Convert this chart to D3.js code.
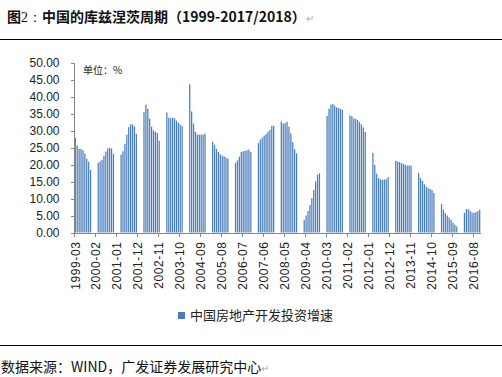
<!DOCTYPE html>
<html>
<head>
<meta charset="utf-8">
<script src="https://cdn.jsdelivr.net/npm/d3@7"></script>
<style>
  body { margin: 0; background: #fff; }
  svg { display: block; }
  .axis text { font-family: "Liberation Sans", Arial, sans-serif; fill: #222; }
  .axis path, .axis line { stroke: #868686; shape-rendering: crispEdges; }
</style>
</head>
<body>
<div id="chart"></div>
<script>
// monthly YTD growth (%), one row per year: Mar..Nov, then Dec/Jan/Feb blank
const investGrowth = [
  27.8, 25.6, 24.6, 24.6, 24.2, 23.2, 21.7, 20.8, 18.4, null, null, null, // 1999
  20.5, 20.9, 21.4, 22.6, 23.8, 24.7, 24.9, 24.7, 23.2, null, null, null, // 2000
  22.9, 23.9, 26.1, 28.8, 31.0, 31.8, 31.8, 31.2, 29.0, null, null, null, // 2001
  35.4, 37.6, 36.4, 33.5, 31.1, 30.0, 29.6, 29.3, 27.0, null, null, null, // 2002
  35.3, 33.8, 33.6, 33.8, 33.6, 32.9, 32.3, 31.8, 31.3, null, null, null, // 2003
  43.6, 35.6, 32.0, 29.6, 28.8, 28.8, 28.8, 28.8, 29.1, null, null, null, // 2004
  26.7, 25.8, 24.6, 23.7, 23.0, 22.6, 22.4, 22.1, 21.7, null, null, null, // 2005
  20.5, 21.2, 22.3, 23.7, 23.9, 24.0, 24.2, 24.4, 23.7, null, null, null, // 2006
  26.3, 27.3, 27.9, 28.5, 28.9, 29.6, 30.2, 31.4, 31.4, null, null, null, // 2007
  32.6, 32.0, 32.2, 32.6, 31.1, 29.1, 26.6, 24.5, 23.3, null, null, null, // 2008
  3.7, 5.0, 6.3, 8.1, 10.1, 12.5, 15.0, 17.0, 17.4, null, null, null,     // 2009
  34.3, 36.4, 37.6, 37.8, 37.3, 36.8, 36.6, 36.4, 36.1, null, null, null, // 2010
  34.4, 34.2, 33.5, 33.5, 33.1, 32.5, 31.8, 30.9, 29.6, null, null, null, // 2011
  23.4, 19.9, 17.3, 16.0, 15.6, 15.5, 15.6, 15.7, 16.3, null, null, null, // 2012
  21.1, 20.9, 20.7, 20.4, 20.2, 19.9, 19.7, 19.7, 19.7, null, null, null, // 2013
  17.5, 16.0, 15.2, 14.2, 13.5, 13.1, 12.8, 12.5, 11.6, null, null, null, // 2014
  8.4, 6.7, 5.7, 5.0, 4.4, 3.7, 2.9, 2.3, 1.8, null, null, null,          // 2015
  5.8, 6.9, 6.9, 6.4, 5.9, 5.8, 6.0, 6.3, 6.7                             // 2016
];

const tickLabels = ['1999-03', '2000-02', '2001-01', '2001-12', '2002-11', '2003-10',
  '2004-09', '2005-08', '2006-07', '2007-06', '2008-05', '2009-04', '2010-03',
  '2011-02', '2012-01', '2012-12', '2013-11', '2014-10', '2015-09', '2016-08'];

const yTicks = [0, 5, 10, 15, 20, 25, 30, 35, 40, 45, 50];

const titleText = '中国的库兹涅茨周期（1999-2017/2018）';
const legendText = '中国房地产开发投资增速';
const sourceText = '数据来源：WIND，广发证券发展研究中心';
const unitText = '单位：%';

// month labels, starting 1999-03
const months = investGrowth.map((v, i) => {
  const m = 2 + i; // 0-based month offset from Jan 1999
  const yr = 1999 + Math.floor(m / 12);
  return `${yr}-${String(m % 12 + 1).padStart(2, '0')}`;
});

const data = months.map((m, i) => ({ month: m, value: investGrowth[i] }));

const width = 502, height = 377;
const plot = { left: 74.5, right: 480.5, top: 62.5, bottom: 232.5 };

const svg = d3.select('#chart').append('svg')
  .attr('width', width)
  .attr('height', height);

// title + rules
const title = svg.append('text')
  .attr('x', 7)
  .attr('y', 22)
  .style('font-family', '"Noto Sans CJK SC", sans-serif')
  .style('font-size', '14px')
  .attr('fill', '#111');
title.append('tspan').attr('font-weight', 'bold').text('图');
title.append('tspan').style('font-family', '"Liberation Serif", serif').text('2：');
title.append('tspan').attr('font-weight', 'bold').text(titleText);
title.append('tspan').attr('fill', '#aaa').style('font-size', '10px').text('↵');

svg.append('line')
  .attr('x1', 0).attr('x2', width)
  .attr('y1', 39.5).attr('y2', 39.5)
  .attr('stroke', '#000');

svg.append('line')
  .attr('x1', 0).attr('x2', width)
  .attr('y1', 345.5).attr('y2', 345.5)
  .attr('stroke', '#000');

// scales
const xScale = d3.scaleBand()
  .domain(months)
  .range([plot.left, plot.right])
  .paddingInner(0.35)
  .paddingOuter(0.1);

const yScale = d3.scaleLinear()
  .domain([0, 50])
  .range([plot.bottom, plot.top]);

// bars
svg.append('g')
  .selectAll('rect')
  .data(data.filter(d => d.value !== null))
  .join('rect')
  .attr('x', d => xScale(d.month))
  .attr('y', d => yScale(d.value))
  .attr('width', xScale.bandwidth())
  .attr('height', d => yScale(0) - yScale(d.value))
  .attr('fill', '#4a7ebb');

// axes
const yAxis = d3.axisLeft(yScale)
  .tickValues(yTicks)
  .tickFormat(d3.format('.2f'))
  .tickSize(4)
  .tickPadding(11);

svg.append('g')
  .attr('class', 'axis y-axis')
  .attr('transform', `translate(${plot.left},0)`)
  .call(yAxis)
  .call(g => g.selectAll('text').style('font-size', '12px'))
  .call(g => g.select('.domain').attr('d', `M0,${plot.bottom}V${plot.top}`));

const xAxis = d3.axisBottom(xScale)
  .tickValues(tickLabels)
  .tickSize(4)
  .tickSizeOuter(0);

svg.append('g')
  .attr('class', 'axis x-axis')
  .attr('transform', `translate(0,${plot.bottom})`)
  .call(xAxis)
  .call(g => g.selectAll('.tick line').attr('x1', -xScale.step() / 2).attr('x2', -xScale.step() / 2))
  .call(g => g.selectAll('text')
    .style('font-size', '12px')
    .style('letter-spacing', '0.6px')
    .attr('text-anchor', 'end')
    .attr('y', 0).attr('x', -9).attr('dy', '0.35em')
    .attr('transform', 'rotate(-90)'));

// unit note
svg.append('text')
  .attr('x', 83)
  .attr('y', 74)
  .style('font-family', '"Noto Sans CJK SC", sans-serif')
  .style('font-size', '10px')
  .attr('fill', '#222')
  .text(unitText);

// legend
svg.append('rect')
  .attr('x', 178).attr('y', 312)
  .attr('width', 7).attr('height', 7)
  .attr('fill', '#4a7ebb');

svg.append('text')
  .attr('x', 190)
  .attr('y', 320)
  .style('font-family', '"Noto Sans CJK SC", sans-serif')
  .style('font-size', '13px')
  .attr('fill', '#222')
  .text(legendText);

// source note
const source = svg.append('text')
  .attr('x', 1)
  .attr('y', 372)
  .style('font-family', '"Noto Sans CJK SC", sans-serif')
  .style('font-size', '14px')
  .attr('fill', '#111')
  .text(sourceText);
source.append('tspan').attr('fill', '#aaa').style('font-size', '10px').text('↵');
</script>
</body>
</html>
